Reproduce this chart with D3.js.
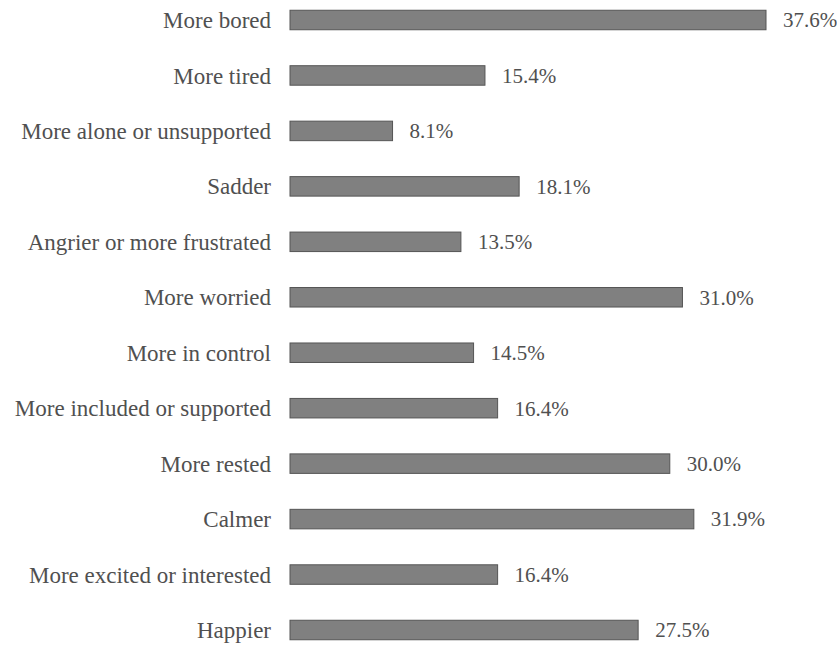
<!DOCTYPE html>
<html><head><meta charset="utf-8">
<script src="https://cdn.jsdelivr.net/npm/d3@7"></script>
<style>body{margin:0;background:#fff}svg{display:block}</style>
</head><body>
<script>
const categories = ["More bored","More tired","More alone or unsupported","Sadder","Angrier or more frustrated","More worried","More in control","More included or supported","More rested","Calmer","More excited or interested","Happier"];
const values = [37.6,15.4,8.1,18.1,13.5,31.0,14.5,16.4,30.0,31.9,16.4,27.5];
const valueLabels = ["37.6%","15.4%","8.1%","18.1%","13.5%","31.0%","14.5%","16.4%","30.0%","31.9%","16.4%","27.5%"];

const W = 837, H = 646;
const svg = d3.select("body").append("svg").attr("width", W).attr("height", H);
const x = d3.scaleLinear().domain([0, 40]).range([290, 290 + 40 * 476 / 37.6]);
const y = d3.scalePoint().domain(categories).range([20, 630]);
const bh = 19.5;
const font = "'Liberation Serif', 'Times New Roman', serif";

const g = svg.append("g");
const rows = g.selectAll("g.row").data(categories).join("g").attr("class","row");
rows.append("rect")
  .attr("x", x(0)).attr("y", d => y(d) - bh/2)
  .attr("width", (d,i) => x(values[i]) - x(0)).attr("height", bh)
  .attr("fill", "#808080").attr("stroke", "#555").attr("stroke-width", 1);
rows.append("text")
  .attr("x", 271).attr("y", d => y(d)).attr("dy", "0.35em")
  .attr("text-anchor", "end").attr("font-family", font).attr("font-size", 23)
  .attr("fill", "#505050").text(d => d);
rows.append("text")
  .attr("x", (d,i) => x(values[i]) + 17).attr("y", d => y(d)).attr("dy", "0.35em")
  .attr("font-family", font).attr("font-size", 21)
  .attr("fill", "#505050").text((d,i) => valueLabels[i]);
</script>
</body></html>
